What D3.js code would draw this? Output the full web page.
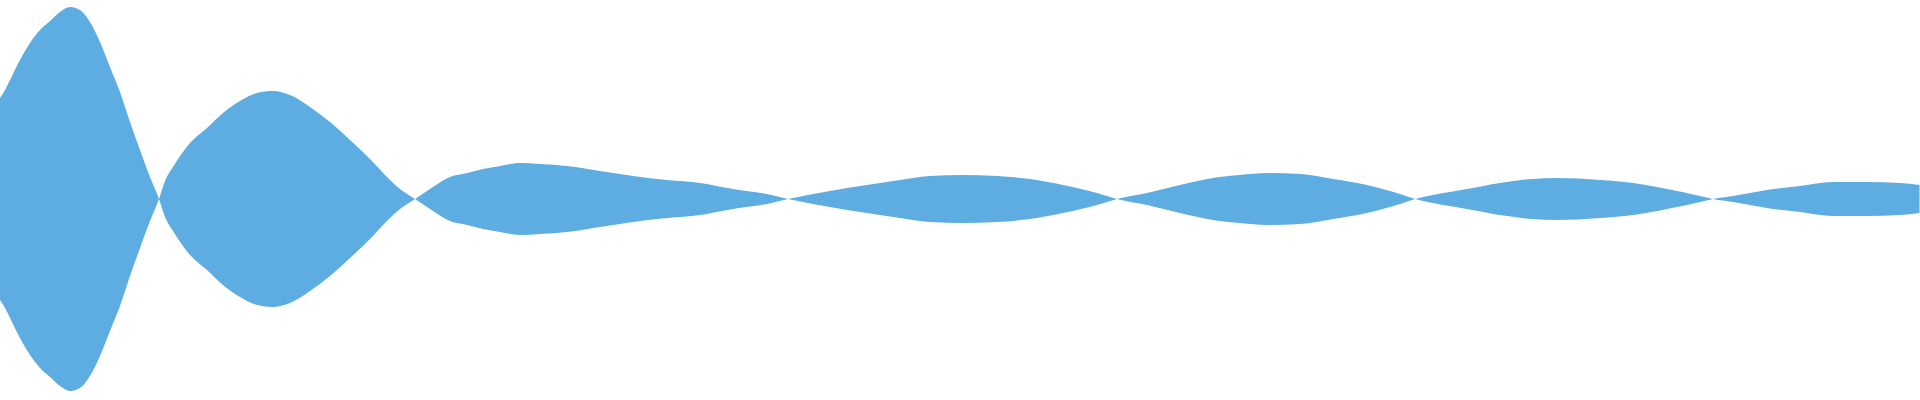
<!DOCTYPE html>
<html>
<head>
<meta charset="utf-8">
<script src="https://cdn.jsdelivr.net/npm/d3@7"></script>
<style>
	html, body { margin: 0; padding: 0; background: #fff; }
	svg { display: block; }
</style>
</head>
<body>
<div id="chart"></div>
<script>
// time in ms, one entry per sample
var times = [
	0, 0.5, 1, 2, 3, 4, 5, 6, 7, 8, 9, 10, 11, 12, 13, 14, 15, 15.9,
	16.5, 17.3, 19, 20.7, 22.3, 24, 25.7, 27.3, 29, 31, 33, 35, 37, 39, 40, 41.5,
	43.3, 45, 46.7, 48.3, 50, 52, 54, 56.7, 60, 63.3, 66.7, 70, 73.3, 76.7, 78.8,
	81.3, 84.7, 88, 91.3, 93, 96.3, 99.7, 103, 106.3, 109.7, 111.7,
	114.7, 118, 121.3, 124, 126.7, 130, 133.3, 136.7, 140, 141.5,
	143.3, 146.7, 150, 153.3, 155.7, 160, 163.3, 166.7, 170, 171.3,
	173.3, 176.7, 180, 183.3, 186.7, 190, 191.95
];

// signed amplitude, sign flips at every zero crossing
var amplitude = [
	0.505, 0.545, 0.595, 0.695, 0.78, 0.845, 0.89, 0.935, 0.96, 0.945, 0.885, 0.785, 0.66, 0.535, 0.385, 0.245, 0.11, 0,
	-0.09, -0.16, -0.28, -0.355, -0.43, -0.49, -0.53, -0.54, -0.52, -0.46, -0.385, -0.295, -0.2, -0.095, -0.05, 0,
	0.06, 0.11, 0.13, 0.15, 0.165, 0.18, 0.175, 0.165, 0.14, 0.115, 0.095, 0.08, 0.05, 0.025, 0,
	-0.025, -0.055, -0.08, -0.105, -0.115, -0.12, -0.115, -0.1, -0.07, -0.03, 0,
	0.03, 0.07, 0.105, 0.12, 0.13, 0.125, 0.1, 0.07, 0.025, 0,
	-0.02, -0.05, -0.08, -0.1, -0.105, -0.095, -0.08, -0.05, -0.015, 0,
	0.015, 0.045, 0.065, 0.085, 0.085, 0.08, 0.07
];

var width = 1920, height = 400;

var samples = times.map(function (t, i) { return {t: t, v: amplitude[i]}; });

var svg = d3.select('#chart').append('svg')
	.attr('width', width)
	.attr('height', height);

var x = d3.scaleLinear()
	.domain(d3.extent(times))
	.range([0, width - 0.5]);

var y = d3.scaleLinear()
	.domain([-1, 1])
	.range([399, -1]);

// mirrored envelope: top follows v, bottom follows -v
var area = d3.area()
	.curve(d3.curveMonotoneX)
	.x(function (d) { return x(d.t); })
	.y0(function (d) { return y(-d.v); })
	.y1(function (d) { return y(d.v); });

svg.append('path')
	.datum(samples)
	.attr('fill', '#5dade2')
	.attr('d', area);
</script>
</body>
</html>
